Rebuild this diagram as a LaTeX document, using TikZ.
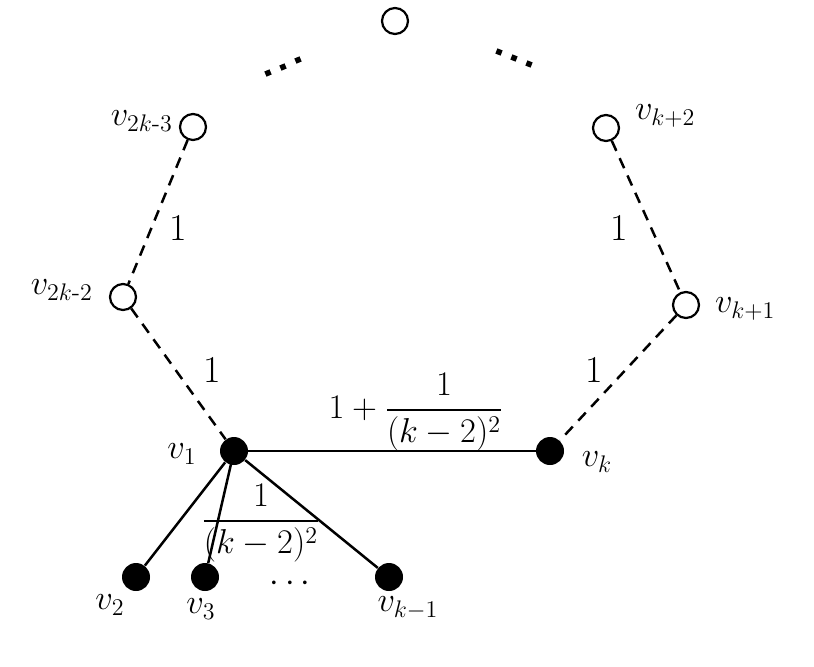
\documentclass[tikz,border=0pt]{standalone}
\usepackage{amsmath}
\begin{document}
\begin{tikzpicture}[x=0.5pt,y=-0.5pt,
  font=\fontsize{18}{22}\selectfont,
  open/.style={circle,draw,line width=1.1pt,minimum size=13pt,inner sep=0pt,fill=white},
  full/.style={circle,fill,minimum size=14pt,inner sep=0pt},
  sedge/.style={line width=1.25pt},
  dedge/.style={line width=1.25pt,dash pattern=on 5.5pt off 4pt},
  wlab/.style={font=\fontsize{19}{22}\selectfont},
  dotsq/.style={fill,minimum size=2.8pt,inner sep=0pt,rectangle}]
\useasboundingbox (0,0) rectangle (814,666);
% vertices
\node[open] (top) at (395,21) {};
\node[open] (a3) at (193,127) {};
\node[open] (a2) at (123,297) {};
\node[open] (b2) at (606,128) {};
\node[open] (b1) at (686,305) {};
\node[full] (v1) at (234,451) {};
\node[full] (vk) at (550,451) {};
\node[full] (v2) at (136,577) {};
\node[full] (v3) at (205,577) {};
\node[full] (vkm) at (389,577) {};
% edges
\draw[dedge] (a3) -- (a2);
\draw[dedge] (a2) -- (v1);
\draw[dedge] (b2) -- (b1);
\draw[dedge] (b1) -- (vk);
\draw[sedge] (v1) -- (vk);
\draw[sedge] (v1) -- (v2);
\draw[sedge] (v1.center) -- (v3);
\draw[sedge] (v1) -- (vkm);
% vertex labels
\node[anchor=east] (la3) at (180,121) {$v_{2k\text{-}3}$};
\node[anchor=east] (la2) at (100,290) {$v_{2k\text{-}2}$};
\node[anchor=west] (lb2) at (628,116) {$v_{k+2}$};
\node[anchor=west] (lb1) at (708,309) {$v_{k+1}$};
\node (l1) at (182,454) {$v_1$};
\node (lk) at (597,462) {$v_k$};
\node (l2) at (110,605) {$v_2$};
\node (l3) at (201,609) {$v_3$};
\node (lkm) at (408,608) {$v_{k-1}$};
% edge labels
\node[wlab] (w1) at (178,228) {1};
\node[wlab] (w2) at (619,228) {1};
\node[wlab] (w3) at (212,370) {1};
\node[wlab] (w4) at (594,370) {1};
\node (wtop) at (416,412) {$1+\dfrac{1}{(k-2)^2}$};
\node[inner sep=0pt] (wlow) at (261,523) {$\dfrac{1}{(k-2)^2}$};
\node[inner sep=0pt] (cd) at (293,584) {$\cdots$};
% dots
\foreach \x/\y [count=\i] in {268/73,283/67,298/60}
  \node[dotsq,rotate=23] (dl\i) at (\x,\y) {};
\foreach \x/\y [count=\i] in {499/52,514/58,529/64}
  \node[dotsq,rotate=-22] (dr\i) at (\x,\y) {};
\end{tikzpicture}
\end{document}
